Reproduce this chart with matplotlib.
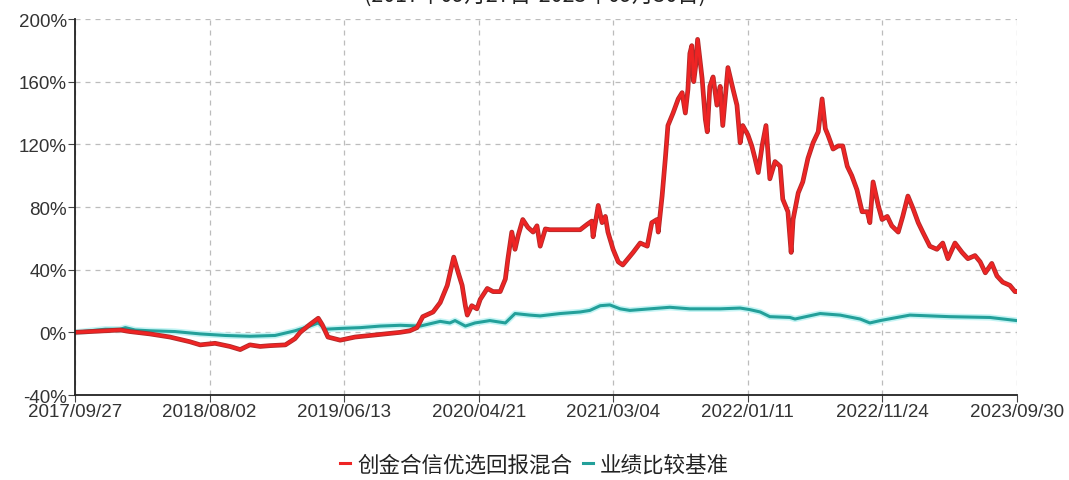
import matplotlib.pyplot as plt
import numpy as np

plt.rcParams['font.family'] = ['Liberation Sans', 'Noto Sans CJK SC', 'DejaVu Sans']

##############################################
# data (trading-day index, cumulative return %)
##############################################
fund_days = [0, 23, 47, 70, 85, 116, 147, 178, 194, 217, 240, 256, 271, 287, 302, 326, 341, 349,
             364, 377, 383, 392, 411, 434, 457, 481, 504, 519, 530, 539, 555, 566, 577, 587, 594,
             600, 605, 608, 615, 623, 628, 639, 648, 659, 667, 671, 677, 682, 687, 694, 702, 710,
             716, 721, 729, 736, 783, 794, 801, 803, 811, 817, 822, 826, 834, 842, 849, 857, 865,
             876, 887, 894, 902, 904, 910, 915, 919, 927, 935, 941, 946, 950, 953, 956, 959, 962,
             965, 972, 977, 980, 984, 989, 995, 1000, 1004, 1012, 1020, 1026, 1031, 1035, 1043,
             1049, 1054, 1059, 1065, 1071, 1077, 1085, 1093, 1097, 1105, 1110, 1113, 1121, 1128,
             1136, 1144, 1152, 1158, 1163, 1167, 1175, 1183, 1190, 1197, 1204, 1212, 1220, 1228,
             1232, 1237, 1245, 1251, 1259, 1266, 1276, 1283, 1291, 1299, 1307, 1314, 1325, 1336,
             1345, 1353, 1364, 1375, 1384, 1395, 1403, 1411, 1421, 1429, 1438, 1449, 1457, 1460]
fund_values = [0, 0.5, 1, 1.5, 0.5, -1, -3, -6, -8, -7, -9, -11, -8, -9, -8.5, -8, -4, 0,
               5, 9, 5, -3, -5, -3, -2, -1, 0, 1, 3, 10, 13, 19, 30, 48, 38,
               30, 17, 11, 17, 15, 21, 28, 26, 26, 34, 47, 64, 53, 62, 72, 67, 64,
               68, 55, 66, 65.5, 65.5, 69, 71, 61, 81, 70, 74, 64, 53, 45, 43, 47, 51,
               57, 55, 70, 72, 64, 87, 111, 132, 140, 149, 153, 140, 155, 178, 183, 160, 170,
               187, 162, 136, 128, 157, 163, 145, 157, 132, 169, 155, 145, 121, 132, 126,
               119, 111, 102, 119, 132, 98, 109, 106, 85, 77, 51, 72, 89, 96,
               111, 121, 128, 149, 130, 126, 117, 119, 119, 106, 100, 91, 77, 77,
               70, 96, 81, 72, 74, 68, 64, 74, 87, 79, 70, 64, 55, 53,
               57, 47, 57, 51, 47, 49, 45, 38, 44, 36, 32, 30, 26, 26]

bench_days = [0, 23, 47, 70, 78, 93, 116, 155, 194, 233, 271, 310, 341, 364, 377, 388, 411, 442,
              473, 504, 535, 566, 581, 589, 605, 620, 643, 667, 682, 705, 721, 752, 783, 798, 814,
              829, 845, 860, 891, 922, 953, 1000, 1031, 1046, 1062, 1077, 1108, 1116, 1155, 1186,
              1217, 1232, 1248, 1294, 1356, 1418, 1460]
bench_values = [0, 1, 2, 2, 3, 1.5, 1, 0.5, -1, -2, -2.5, -2, 1, 4, 6, 2, 2.5, 3,
                4, 4.5, 4, 7, 6, 7.5, 4, 6, 7.5, 6, 12, 11, 10.5, 12, 13, 14, 17,
                17.5, 15, 14, 15, 16, 15, 15, 15.5, 14.5, 13, 10, 9.5, 8.5, 12, 11,
                8.5, 6, 7.5, 11, 10, 9.5, 7.5]

tick_labels = ['2017/09/27', '2018/08/02', '2019/06/13', '2020/04/21',
               '2021/03/04', '2022/01/11', '2022/11/24', '2023/09/30']
total_days = 1460

##############################################
# plot
##############################################
fig = plt.figure(figsize=(10.69, 4.81), dpi=100)
ax = fig.add_axes([0.0702, 0.1767, 0.8811, 0.7817])

ax.plot(bench_days, bench_values, color='#c4f4f4', linewidth=4.5)
ax.plot(bench_days, bench_values, color='#23a09a', linewidth=2.2, label='业绩比较基准')
ax.plot(fund_days, fund_values, color='#b02a2a', linewidth=3.4)
ax.plot(fund_days, fund_values, color='#ee2424', linewidth=2.2, label='创金合信优选回报混合')

ax.set_xlim(0, total_days)
ax.set_ylim(-40, 200)
ax.set_yticks(np.arange(-40, 201, 40))
ax.set_yticklabels([f'{v}%' for v in range(-40, 201, 40)])
ax.set_xticks(np.linspace(0, total_days, len(tick_labels)))
ax.set_xticklabels(tick_labels)

ax.grid(True, linestyle=(0, (4, 4)), color='#bcbcbc', linewidth=0.9)
ax.set_axisbelow(True)
for s in ['top', 'right']:
    ax.spines[s].set_visible(False)
for s in ['left', 'bottom']:
    ax.spines[s].set_color('#222222')
    ax.spines[s].set_linewidth(1.3)
ax.tick_params(axis='both', length=5, color='#444444', labelsize=13.5, labelcolor='#333333', pad=1)

handles, labels = ax.get_legend_handles_labels()
order = [1, 0]
fig.legend([handles[i] for i in order], [labels[i] for i in order], loc='center',
           bbox_to_anchor=(0.5, 0.033), ncol=2, frameon=False, handlelength=0.45,
           handletextpad=0.35, columnspacing=0.5, prop={'family': ['Noto Sans CJK SC'], 'size': 15.5},
           labelcolor='#222222')

fig.text(0.5, 1.009, '(2017年09月27日-2023年09月30日)', ha='center', va='center',
         fontsize=15.5, color='#222222', family=['Noto Sans CJK SC'])

fig.savefig('out.png', dpi=100)
